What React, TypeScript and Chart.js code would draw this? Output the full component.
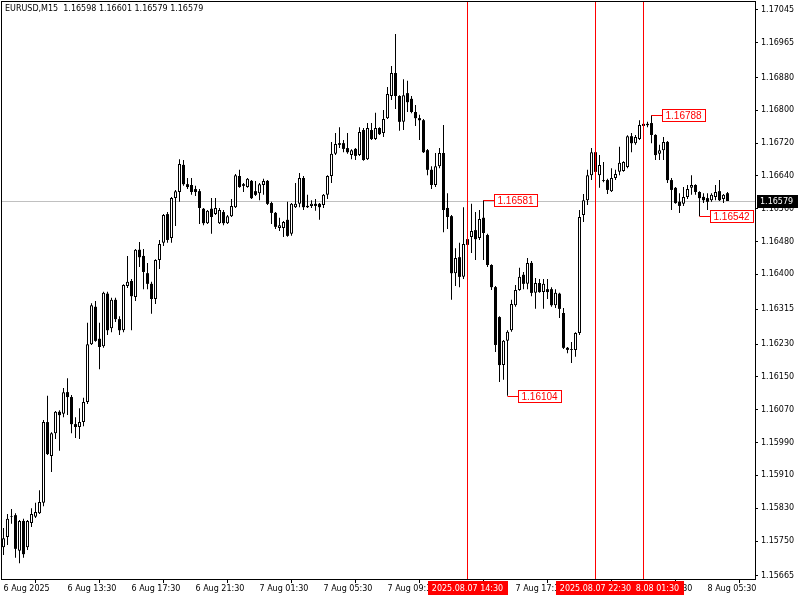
import React, { useEffect, useRef } from "react";
import { Chart, registerables } from "chart.js";
Chart.register(...registerables);

const FONT = "'DejaVu Sans', 'Liberation Sans', sans-serif";
const LABEL_FONT = "'Liberation Sans', Arial, sans-serif";

const titleText = "EURUSD,M15  1.16598 1.16601 1.16579 1.16579";
const firstBarUTC = Date.UTC(2025, 7, 6, 9, 30);

const opens = [
  1.15735, 1.1576, 1.15809, 1.15813, 1.15726, 1.15799, 1.15735, 1.15794, 1.15809, 1.15818,
  1.15843, 1.1604, 1.15957, 1.16013, 1.16065, 1.1606, 1.16113, 1.16101, 1.16035, 1.16028,
  1.1604, 1.16089, 1.1623, 1.16321, 1.16243, 1.16225, 1.16353, 1.16269, 1.16338, 1.16291,
  1.16264, 1.16372, 1.16384, 1.16345, 1.1646, 1.16445, 1.16403, 1.16377, 1.1634, 1.16435,
  1.16477, 1.16547, 1.16489, 1.16586, 1.16601, 1.16667, 1.1662, 1.16618, 1.16608, 1.16603,
  1.1656, 1.16525, 1.1656, 1.16547, 1.16525, 1.16552, 1.16525, 1.16542, 1.16564, 1.1664,
  1.1662, 1.16613, 1.16628, 1.16603, 1.16598, 1.16618, 1.16628, 1.16574, 1.1655, 1.16513,
  1.16513, 1.16533, 1.16499, 1.16564, 1.16572, 1.16635, 1.16567, 1.16567, 1.16572, 1.16572,
  1.16569, 1.16594, 1.1664, 1.16694, 1.1672, 1.1672, 1.16708, 1.16691, 1.16706, 1.16691,
  1.16752, 1.16681, 1.16752, 1.1673, 1.16757, 1.16745, 1.16781, 1.16835, 1.16891, 1.16835,
  1.16772, 1.16842, 1.16828, 1.16796, 1.16781, 1.16776, 1.16703, 1.16655, 1.16618, 1.16664,
  1.16696, 1.16562, 1.16542, 1.16403, 1.16442, 1.16394, 1.16486, 1.16491, 1.16508, 1.16489,
  1.16538, 1.16496, 1.16423, 1.16369, 1.16296, 1.16179, 1.16238, 1.16264, 1.16325, 1.16362,
  1.16399, 1.16377, 1.16428, 1.16355, 1.16379, 1.16357, 1.16364, 1.16364, 1.16325, 1.16353,
  1.16306, 1.16221, 1.16218, 1.16216, 1.16257, 1.16545, 1.16581, 1.16642, 1.16698, 1.16642,
  1.1663, 1.1663, 1.16603, 1.16635, 1.1665, 1.16652, 1.16662, 1.16737, 1.1672, 1.1673,
  1.16767, 1.16767, 1.16769, 1.1674, 1.16694, 1.16703, 1.16723, 1.1663, 1.16611, 1.16577,
  1.16572, 1.16589, 1.16611, 1.16618, 1.16601, 1.16589, 1.16586, 1.16581, 1.16589, 1.16603,
  1.16584, 1.16598,
];
const highs = [
  1.15782, 1.15816, 1.15828, 1.15818, 1.15801, 1.15804, 1.15801, 1.1583, 1.15843, 1.15874,
  1.16045, 1.16104, 1.16015, 1.16067, 1.16069, 1.16123, 1.16147, 1.16106, 1.16052, 1.16074,
  1.16099, 1.16282, 1.1633, 1.16335, 1.16282, 1.16358, 1.16358, 1.16343, 1.16343, 1.16298,
  1.16376, 1.16445, 1.16389, 1.16462, 1.16479, 1.16462, 1.16428, 1.16382, 1.16437, 1.16484,
  1.16547, 1.16552, 1.16589, 1.16606, 1.16681, 1.16679, 1.16635, 1.16635, 1.16616, 1.16608,
  1.16562, 1.16557, 1.16586, 1.16586, 1.16562, 1.16557, 1.16545, 1.16584, 1.16645, 1.16655,
  1.16623, 1.16635, 1.1663, 1.16628, 1.16623, 1.16633, 1.1663, 1.16577, 1.16552, 1.16538,
  1.1653, 1.16577, 1.16574, 1.16623, 1.16647, 1.1664, 1.16594, 1.16581, 1.16584, 1.16574,
  1.16596, 1.16642, 1.16723, 1.16745, 1.16759, 1.16728, 1.16745, 1.16705, 1.16708, 1.16759,
  1.16757, 1.16769, 1.16769, 1.16794, 1.16759, 1.16801, 1.16857, 1.16908, 1.16986, 1.16837,
  1.16876, 1.16872, 1.16835, 1.16813, 1.16789, 1.16779, 1.16706, 1.16664, 1.16696, 1.16708,
  1.16764, 1.16598, 1.16545, 1.16464, 1.16477, 1.16564, 1.16489, 1.16572, 1.16552, 1.16557,
  1.16581, 1.16499, 1.16425, 1.16372, 1.16298, 1.1624, 1.16264, 1.16338, 1.16374, 1.16416,
  1.16406, 1.1644, 1.16433, 1.16391, 1.16389, 1.16389, 1.16389, 1.16369, 1.16364, 1.16355,
  1.16318, 1.16223, 1.16235, 1.16259, 1.16557, 1.16596, 1.16655, 1.16708, 1.16708, 1.16691,
  1.16674, 1.16633, 1.16659, 1.16655, 1.16711, 1.16676, 1.16739, 1.16745, 1.1674, 1.16776,
  1.16769, 1.16772, 1.16788, 1.16742, 1.16716, 1.16735, 1.16725, 1.16635, 1.16613, 1.16598,
  1.16613, 1.16618, 1.16642, 1.1662, 1.16603, 1.16598, 1.16598, 1.16598, 1.16618, 1.1663,
  1.16596, 1.16601,
];
const lows = [
  1.15716, 1.1574, 1.15792, 1.15709, 1.15696, 1.15709, 1.15728, 1.15784, 1.15806, 1.15816,
  1.15835, 1.1596, 1.15918, 1.15999, 1.1597, 1.16052, 1.16057, 1.16013, 1.16001, 1.15999,
  1.1603, 1.16084, 1.16228, 1.16236, 1.16169, 1.16221, 1.16252, 1.16259, 1.16284, 1.16252,
  1.16259, 1.16367, 1.16264, 1.16335, 1.16418, 1.16364, 1.16364, 1.16304, 1.16328, 1.16413,
  1.16469, 1.16477, 1.16477, 1.16518, 1.16577, 1.16616, 1.16608, 1.16594, 1.16591, 1.16523,
  1.1652, 1.16523, 1.16499, 1.16545, 1.16523, 1.1652, 1.16523, 1.1654, 1.16562, 1.16611,
  1.16601, 1.16611, 1.16584, 1.16591, 1.16581, 1.16594, 1.16569, 1.16523, 1.16511, 1.16506,
  1.16491, 1.16492, 1.16494, 1.16562, 1.16564, 1.16557, 1.16562, 1.16562, 1.16555, 1.16533,
  1.16562, 1.16584, 1.16623, 1.16691, 1.16708, 1.16698, 1.16694, 1.16681, 1.16679, 1.16689,
  1.16677, 1.16679, 1.16728, 1.16728, 1.1674, 1.16735, 1.16779, 1.16825, 1.16803, 1.1675,
  1.16752, 1.16796, 1.16793, 1.16762, 1.16728, 1.16696, 1.16642, 1.16608, 1.16613, 1.16659,
  1.16503, 1.16511, 1.16338, 1.16372, 1.16369, 1.16389, 1.16469, 1.16452, 1.16435, 1.16484,
  1.16435, 1.16418, 1.16362, 1.16211, 1.16138, 1.16143, 1.16104, 1.1626, 1.16321, 1.1636,
  1.16364, 1.16364, 1.16347, 1.16316, 1.16355, 1.16316, 1.1634, 1.16321, 1.16318, 1.16294,
  1.16218, 1.16208, 1.16184, 1.16199, 1.16252, 1.16528, 1.16569, 1.1663, 1.16642, 1.16611,
  1.16625, 1.16596, 1.16601, 1.1663, 1.16642, 1.1665, 1.16659, 1.16698, 1.16716, 1.16728,
  1.16759, 1.16759, 1.1672, 1.16679, 1.16679, 1.16679, 1.16623, 1.16557, 1.16572, 1.1655,
  1.16567, 1.16584, 1.16594, 1.16594, 1.16542, 1.16574, 1.16557, 1.16577, 1.16581, 1.16579,
  1.16574, 1.16579,
];
const closes = [
  1.15757, 1.15804, 1.15811, 1.15731, 1.15799, 1.15718, 1.15799, 1.15816, 1.15821, 1.15845,
  1.1604, 1.15962, 1.16013, 1.16065, 1.16057, 1.16113, 1.16101, 1.16035, 1.16028, 1.1604,
  1.16089, 1.1623, 1.16325, 1.16238, 1.16223, 1.16355, 1.16264, 1.16338, 1.16291, 1.16264,
  1.16374, 1.16382, 1.16347, 1.1646, 1.16442, 1.16406, 1.16377, 1.1634, 1.16435, 1.16474,
  1.16545, 1.16484, 1.16586, 1.16603, 1.16669, 1.1662, 1.16613, 1.16601, 1.16601, 1.16562,
  1.16525, 1.16555, 1.1654, 1.16562, 1.16557, 1.16525, 1.16542, 1.16567, 1.16642, 1.16613,
  1.16616, 1.16633, 1.16586, 1.16594, 1.1662, 1.16628, 1.16572, 1.1655, 1.16516, 1.1652,
  1.16528, 1.16494, 1.16572, 1.16572, 1.16635, 1.16564, 1.16564, 1.16572, 1.16567, 1.16564,
  1.16594, 1.1664, 1.16694, 1.16718, 1.16716, 1.16706, 1.16698, 1.16703, 1.16689, 1.16747,
  1.16679, 1.16757, 1.1673, 1.16757, 1.16742, 1.16779, 1.1684, 1.16891, 1.16835, 1.16772,
  1.16837, 1.1682, 1.16796, 1.16781, 1.16776, 1.16698, 1.16655, 1.16618, 1.16664, 1.16696,
  1.16557, 1.1654, 1.16403, 1.1644, 1.16394, 1.16474, 1.16472, 1.16506, 1.16486, 1.16535,
  1.16501, 1.16423, 1.16369, 1.16228, 1.16179, 1.16238, 1.1626, 1.16328, 1.16362, 1.16394,
  1.16377, 1.16428, 1.16355, 1.16379, 1.16357, 1.16377, 1.16357, 1.16325, 1.16355, 1.16316,
  1.16221, 1.16216, 1.16216, 1.16257, 1.1654, 1.16581, 1.16642, 1.16698, 1.1665, 1.16667,
  1.16628, 1.16606, 1.16635, 1.16645, 1.16672, 1.16674, 1.16737, 1.1672, 1.16735, 1.16764,
  1.16762, 1.16764, 1.1674, 1.16691, 1.16703, 1.16723, 1.1663, 1.16606, 1.16574, 1.16567,
  1.16589, 1.16608, 1.16618, 1.16601, 1.16586, 1.16581, 1.16577, 1.16594, 1.16601, 1.16581,
  1.16594, 1.16579,
];

const pad = (n: number) => (n < 10 ? "0" + n : "" + n);
const times: string[] = opens.map((_, i) => {
  const d = new Date(firstBarUTC + i * 15 * 60000);
  return `${d.getUTCFullYear()}.${pad(d.getUTCMonth() + 1)}.${pad(d.getUTCDate())} ${pad(d.getUTCHours())}:${pad(d.getUTCMinutes())}`;
});

const xTickTimes = [
  "2025.08.06 09:30", "2025.08.06 13:30", "2025.08.06 17:30", "2025.08.06 21:30",
  "2025.08.07 01:30", "2025.08.07 05:30", "2025.08.07 09:30", "2025.08.07 13:30",
  "2025.08.07 17:30", "2025.08.07 21:30", "2025.08.08 01:30", "2025.08.08 05:30",
];
const xTickLabels = [
  "6 Aug 2025", "6 Aug 13:30", "6 Aug 17:30", "6 Aug 21:30",
  "7 Aug 01:30", "7 Aug 05:30", "7 Aug 09:30", "7 Aug 13:30",
  "7 Aug 17:30", "7 Aug 21:30", "8 Aug 01:30", "8 Aug 05:30",
];
const yTickValues = [
  1.17045, 1.16965, 1.1688, 1.168, 1.1672, 1.1664, 1.1656, 1.1648, 1.164,
  1.16315, 1.1623, 1.1615, 1.1607, 1.1599, 1.1591, 1.1583, 1.1575, 1.15665,
];
const yMin = 1.156574;
const yMax = 1.170666;
const xMin = -0.625;
const xMax = 187.875;

const bidPrice = 1.16579;
// vertical lines, drawn in this order (last on top)
const vLineTimes = ["2025.08.08 01:30", "2025.08.07 22:30", "2025.08.07 14:30"];
// extreme price labels
const markTimes = ["2025.08.07 15:30", "2025.08.07 17:00", "2025.08.08 02:00", "2025.08.08 05:00"];
const markValues = [1.16581, 1.16104, 1.16788, 1.16542];

const overlay = {
  id: "overlay",
  beforeDatasetsDraw(chart: any) {
    const { ctx, chartArea: a, scales } = chart;
    const y = scales.y;
    ctx.save();
    const yy = Math.round(y.getPixelForValue(bidPrice)) + 0.5;
    ctx.strokeStyle = "#c0c0c0";
    ctx.lineWidth = 1;
    ctx.beginPath();
    ctx.moveTo(a.left, yy);
    ctx.lineTo(a.right, yy);
    ctx.stroke();
    ctx.restore();
  },
  afterDatasetsDraw(chart: any) {
    const { ctx, chartArea: a, scales } = chart;
    const { x, y } = scales;
    ctx.save();
    ctx.strokeStyle = "#ff0000";
    ctx.lineWidth = 1;
    vLineTimes.forEach((t) => {
      const xx = Math.floor(x.getPixelForValue(times.indexOf(t))) + 0.5;
      ctx.beginPath();
      ctx.moveTo(xx, a.top);
      ctx.lineTo(xx, a.bottom);
      ctx.stroke();
    });
    // price marks
    ctx.font = `10px ${LABEL_FONT}`;
    ctx.textBaseline = "middle";
    ctx.textAlign = "left";
    markTimes.forEach((t, k) => {
      const xx = Math.floor(x.getPixelForValue(times.indexOf(t))) + 0.5;
      const yy = Math.round(y.getPixelForValue(markValues[k])) + 0.5;
      const label = markValues[k].toFixed(5);
      const w = Math.ceil(ctx.measureText(label).width) + 6;
      const bx = xx + 11;
      ctx.strokeStyle = "#ff0000";
      ctx.beginPath();
      ctx.moveTo(xx, yy);
      ctx.lineTo(bx, yy);
      ctx.stroke();
      ctx.fillStyle = "#ffffff";
      ctx.fillRect(bx, yy - 6, w, 12);
      ctx.strokeRect(bx, yy - 6, w, 12);
      ctx.fillStyle = "#ff0000";
      ctx.fillText(label, bx + 3, yy + 0.5);
    });
    ctx.restore();
  },
  afterDraw(chart: any) {
    const { ctx, chartArea: a, scales } = chart;
    const { x, y } = scales;
    ctx.save();
    // time labels of vertical lines
    ctx.font = `8px ${FONT}`;
    ctx.textBaseline = "middle";
    ctx.textAlign = "center";
    vLineTimes.forEach((t) => {
      const xx = Math.floor(x.getPixelForValue(times.indexOf(t))) + 0.5;
      const w = Math.ceil(ctx.measureText(t).width) + 8;
      ctx.fillStyle = "#ff0000";
      ctx.fillRect(Math.round(xx - w / 2), a.bottom + 2, w, 14);
      ctx.fillStyle = "#ffffff";
      ctx.fillText(t, xx, a.bottom + 9.5);
    });
    // bid box on price axis
    const by = Math.round(y.getPixelForValue(bidPrice));
    ctx.fillStyle = "#000000";
    ctx.fillRect(a.right + 2, by - 6, 41, 13);
    ctx.fillStyle = "#ffffff";
    ctx.textAlign = "left";
    ctx.fillText(bidPrice.toFixed(5), a.right + 5, by + 0.5);
    // title
    ctx.fillStyle = "#000000";
    ctx.textBaseline = "alphabetic";
    ctx.fillText(titleText, a.left + 4, a.top + 10);
    // frame
    ctx.strokeStyle = "#000000";
    ctx.lineWidth = 1;
    ctx.strokeRect(a.left + 0.5, a.top + 0.5, a.right - a.left, a.bottom - a.top);
    ctx.restore();
  },
};

const noPad = (s: any) => {
  s.paddingTop = 0;
  s.paddingBottom = 0;
  s.paddingLeft = 0;
  s.paddingRight = 0;
};

export default function App() {
  const ref = useRef<HTMLCanvasElement>(null);
  useEffect(() => {
    const canvas = ref.current!;
    const bull: any[] = [];
    const bear: any[] = [];
    const wicks: any[] = [];
    opens.forEach((o, i) => {
      wicks.push({ x: i, y: [lows[i], highs[i]] });
      if (closes[i] >= o) bull.push({ x: i, y: [o, closes[i]] });
      else bear.push({ x: i, y: [o, closes[i]] });
    });
    const common = { grouped: false, inflateAmount: 0, borderSkipped: false as any };
    const chart = new Chart(canvas, {
      type: "bar",
      data: {
        datasets: [
          { label: "bull", data: bull, backgroundColor: "#ffffff", borderColor: "#000000", borderWidth: 1, barThickness: 3, ...common },
          { label: "bear", data: bear, backgroundColor: "#000000", borderColor: "#000000", borderWidth: 0, barThickness: 3, ...common },
          { label: "wick", data: wicks, backgroundColor: "#000000", borderWidth: 0, barThickness: 1, ...common },
        ] as any,
      },
      options: {
        animation: false,
        responsive: false,
        maintainAspectRatio: false,
        events: [],
        layout: { padding: { left: 1, top: 1, right: 0, bottom: 0 } },
        plugins: { legend: { display: false }, tooltip: { enabled: false }, title: { display: false } },
        scales: {
          x: {
            type: "linear",
            min: xMin,
            max: xMax,
            offset: false,
            afterBuildTicks: (s: any) => {
              s.ticks = xTickTimes.map((t) => ({ value: times.indexOf(t) }));
            },
            afterFit: (s: any) => {
              s.height = 21;
              noPad(s);
            },
            grid: { drawOnChartArea: false, drawTicks: true, tickLength: 4, color: "#000000" },
            border: { display: false },
            ticks: {
              autoSkip: false,
              maxRotation: 0,
              minRotation: 0,
              align: "start",
              padding: 1,
              color: "#000000",
              font: { family: FONT, size: 8 },
              callback: (v: any) => {
                const k = xTickTimes.indexOf(times[Math.round(Number(v))]);
                return k >= 0 ? xTickLabels[k] : "";
              },
            },
          },
          y: {
            type: "linear",
            position: "right",
            min: yMin,
            max: yMax,
            afterBuildTicks: (s: any) => {
              s.ticks = yTickValues.map((v) => ({ value: v }));
            },
            afterFit: (s: any) => {
              s.width = 45;
              noPad(s);
            },
            grid: { drawOnChartArea: false, drawTicks: true, tickLength: 3, color: "#000000" },
            border: { display: false },
            ticks: {
              autoSkip: false,
              padding: 3,
              color: "#000000",
              font: { family: FONT, size: 8 },
              callback: (v: any) => Number(v).toFixed(5),
            },
          },
        },
      } as any,
      plugins: [overlay],
    });
    return () => chart.destroy();
  }, []);
  return (
    <div style={{ position: "fixed", left: 0, top: 0, width: 800, height: 600, background: "#ffffff" }}>
      <canvas ref={ref} width={800} height={600} style={{ width: 800, height: 600, display: "block" }} />
    </div>
  );
}
